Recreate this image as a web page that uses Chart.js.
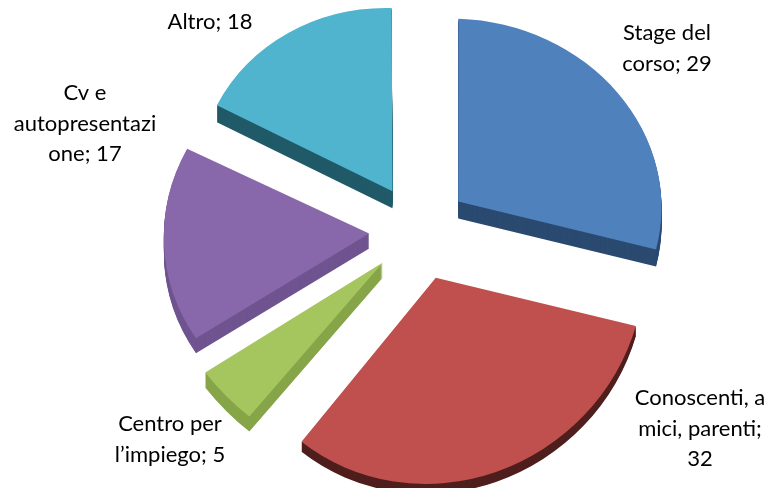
<!DOCTYPE html>
<html>
<head>
<meta charset="utf-8">
<title>Pie</title>
<script src="https://cdn.jsdelivr.net/npm/chart.js@4/dist/chart.umd.min.js"></script>
<style>
  html, body { margin: 0; padding: 0; background: #fff; }
  canvas { display: block; }
</style>
</head>
<body>
<canvas id="pie" width="766" height="488"></canvas>
<script>
// data
const categories = ['Stage del corso', 'Conoscenti, amici, parenti', "Centro per l’impiego", 'Cv e autopresentazione', 'Altro'];
const values = [29, 32, 5, 17, 18];
const labelLines = [
  ['Stage del', 'corso; 29'],
  ['Conoscenti, a', 'mici, parenti;', '32'],
  ['Centro per', 'l’impiego; 5'],
  ['Cv e', 'autopresentazi', 'one; 17'],
  ['Altro; 18']
];

// look of the slices
const topColors = ['#4f81bd', '#c0504d', '#a5c55f', '#8868ab', '#50b4cf'];
const wallColors = ['#2b4a70', '#4f1f1d', '#86a548', '#6f5490', '#215a68'];
const squash = [0.89, 0.99, 0.94, 0.92, 0.89];
const depth = [17, 10, 15, 15, 17];
// perspective fudge, each slice gets its own scale and shear around its tip
const sizeX = [0.99, 1, 0.959, 0.975, 0.935];
const sizeY = [1, 1, 0.949, 0.98, 0.985];
const shearX = [0, -0.05, 0.056, -0.037, 0];
const shearY = [0.03, 0, 0.08, 0.016, 0.03];
const nudgeY = [-1, 1, 0, 0, -1];

// label centre x, first line centre y
const labelPos = [[667, 33], [700, 398], [170, 424], [85, 93], [210, 22]];
const lineHeight = 30.5;

// fake 3D: squash every slice and stack copies of it to make the wall
const tiltPlugin = {
  id: 'tilt',
  beforeDatasetDraw(chart, args) {
    const ctx = chart.ctx;
    args.meta.data.forEach((arc, i) => {
      const saved = arc.options;
      const mid = (arc.startAngle + arc.endAngle) / 2;
      const push = saved.offset / 4;
      const tipX = arc.x + Math.cos(mid) * push;
      const tipY = arc.y + Math.sin(mid) * push * squash[i];
      const paint = (down) => {
        ctx.save();
        ctx.translate(tipX, tipY + nudgeY[i] + down);
        ctx.transform(sizeX[i], shearY[i], shearX[i], sizeY[i], 0, 0);
        ctx.translate(-tipX, -tipY);
        ctx.translate(0, arc.y);
        ctx.scale(1, squash[i]);
        ctx.translate(0, -arc.y);
        arc.draw(ctx);
        ctx.restore();
      };
      arc.options = Object.assign({}, saved, { backgroundColor: wallColors[i] });
      for (let d = depth[i]; d > 0; d--) paint(d);
      arc.options = saved;
      paint(0);
    });
    return false;
  },
  afterDraw(chart) {
    const ctx = chart.ctx;
    ctx.save();
    ctx.font = '22px Lato';
    ctx.fillStyle = '#000';
    ctx.textAlign = 'center';
    ctx.textBaseline = 'middle';
    labelLines.forEach((lines, i) => {
      lines.forEach((line, j) => {
        ctx.fillText(line, labelPos[i][0], labelPos[i][1] + j * lineHeight);
      });
    });
    ctx.restore();
  }
};

new Chart(document.getElementById('pie').getContext('2d'), {
  type: 'pie',
  data: {
    labels: categories,
    datasets: [{
      data: values,
      backgroundColor: topColors,
      borderWidth: 0,
      // ArcElement moves a slice by offset / 4
      offset: 200,
      clip: false
    }]
  },
  options: {
    responsive: false,
    animation: false,
    radius: 204,
    layout: { padding: { left: 72, bottom: 28 } },
    plugins: { legend: { display: false }, tooltip: { enabled: false } }
  },
  plugins: [tiltPlugin]
});
</script>
</body>
</html>
